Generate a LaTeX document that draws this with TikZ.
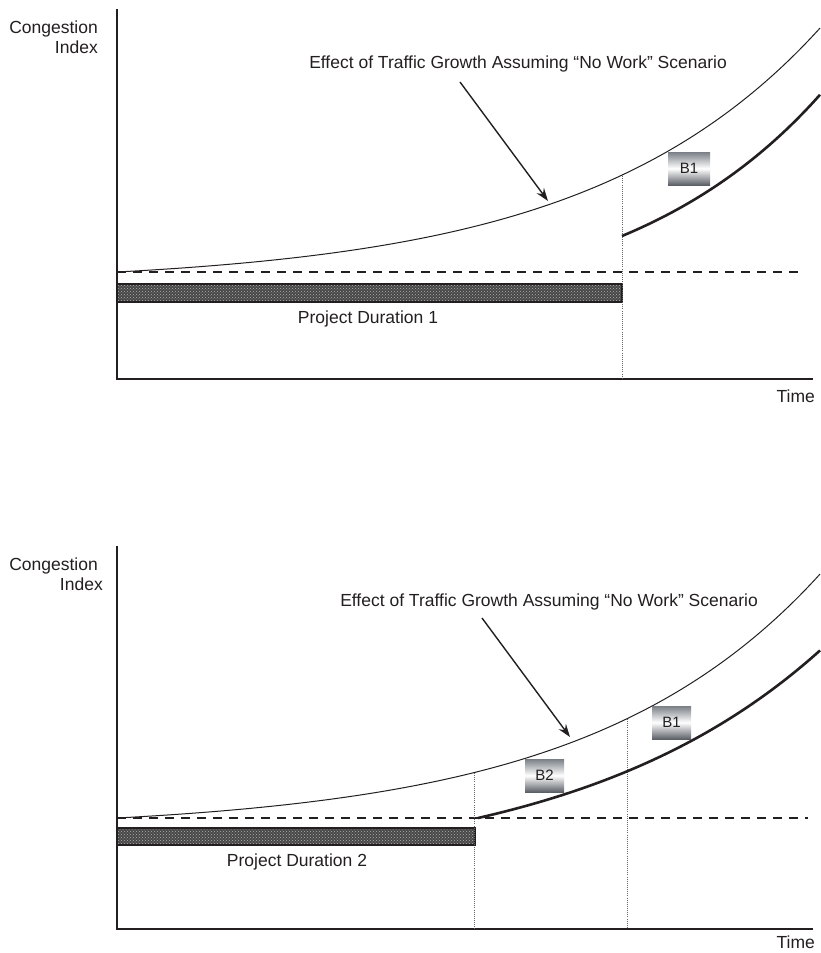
\documentclass[tikz,border=0pt]{standalone}
\usepackage{fontspec}
\setmainfont{Liberation Sans}
\usetikzlibrary{arrows.meta,patterns}
\definecolor{txt}{RGB}{35,31,32}
\definecolor{btop}{RGB}{122,127,134}
\definecolor{bbot}{RGB}{92,96,103}
\begin{document}
\begin{tikzpicture}[x=1pt,y=-1pt,
  axisline/.style={line width=1.8pt, draw=txt},
  baseline/.style={line width=2.2pt, draw=txt, dash pattern=on 9pt off 7pt},
  growth/.style={line width=1pt, draw=txt},
  improved/.style={line width=2.6pt, draw=txt},
  guide/.style={line width=0.9pt, draw=black!60, dash pattern=on 0.9pt off 1.2pt},
  bar/.style={draw=txt, line width=1.6pt, preaction={fill=black!72}, pattern=crosshatch dots, pattern color=white!70!black, inner sep=0pt, outer sep=0pt, anchor=north west},
  bbox/.style={shade, top color=btop, bottom color=bbot, middle color=white, minimum width=40pt, minimum height=33pt, inner sep=0pt, text=txt, font=\fontsize{15}{15}\selectfont},
  lbl/.style={font=\fontsize{17.5}{21}\selectfont, text=txt, inner sep=0pt},
  pointer/.style={line width=1.4pt, draw=txt, -{Stealth[length=13pt,width=9pt,inset=4.5pt]}}
]
\useasboundingbox (0,0) rectangle (820,953);

% ---------------- top panel ----------------
\coordinate (o1) at (117,379);
\coordinate (yt1) at (117,9);
\coordinate (xe1) at (813,379);
\draw[axisline] (yt1) -- (o1) -- (xe1);
\node[lbl, anchor=base east] (cong1) at (98,33) {Congestion};
\node[lbl, anchor=base east] (idx1) at (98,53) {Index};
\node[lbl, anchor=base east] (time1) at (815,402) {Time};

\coordinate (d1s) at (117,272);
\coordinate (d1e) at (805,272);
\draw[baseline] (d1s) -- (d1e);

\node[bar, minimum width=505pt, minimum height=18pt] (bar1) at (117,284) {};
\node[lbl, anchor=base] (pd1) at (368,323) {Project Duration 1};

\draw[guide] (622,174) -- (622,379);

\draw[growth] plot[domain=0:703, samples=120, smooth] ({117+\x},{272-12.45*(exp(0.0043*\x)-1)});
\draw[improved] plot[domain=0:198, samples=60, smooth] ({622+\x},{236-83.4*(exp(0.005*\x)-1)});

\node[bbox, minimum width=42pt] (b1top) at (689,168.5) {B1};

\node[lbl, anchor=base east] (eff1) at (727,68) {Effect of Traffic Growth Assuming “No Work” Scenario};
\coordinate (a1s) at (460,82);
\coordinate (a1e) at (548,201);
\draw[pointer] (a1s) -- (a1e);

% ---------------- bottom panel ----------------
\coordinate (o2) at (117,929);
\coordinate (yt2) at (117,546);
\coordinate (xe2) at (813,929);
\draw[axisline] (yt2) -- (o2) -- (xe2);
\node[lbl, anchor=base east] (cong2) at (98,570) {Congestion};
\node[lbl, anchor=base east] (idx2) at (103,590) {Index};
\node[lbl, anchor=base east] (time2) at (815,948) {Time};

\coordinate (d2s) at (117,818);
\coordinate (d2e) at (808,818);
\draw[baseline] (d2s) -- (d2e);

\node[bar, minimum width=358pt, minimum height=17pt] (bar2) at (117,828) {};
\node[lbl, anchor=base] (pd2) at (297,866) {Project Duration 2};

\draw[guide] (474,773) -- (474,929);
\draw[guide] (627,719) -- (627,929);

\draw[growth] plot[domain=0:703, samples=120, smooth] ({117+\x},{818-12.45*(exp(0.0043*\x)-1)});
\draw[improved] plot[domain=0:342, samples=80, smooth] ({478+\x},{818-57.3*(exp(0.004*\x)-1)});

\node[bbox, minimum width=39pt] (b2) at (544.5,775.5) {B2};
\node[bbox, minimum width=39pt] (b1bot) at (671.5,722.5) {B1};

\node[lbl, anchor=base east] (eff2) at (758,606) {Effect of Traffic Growth Assuming “No Work” Scenario};
\coordinate (a2s) at (482,618);
\coordinate (a2e) at (570,737);
\draw[pointer] (a2s) -- (a2e);
\end{tikzpicture}
\end{document}
